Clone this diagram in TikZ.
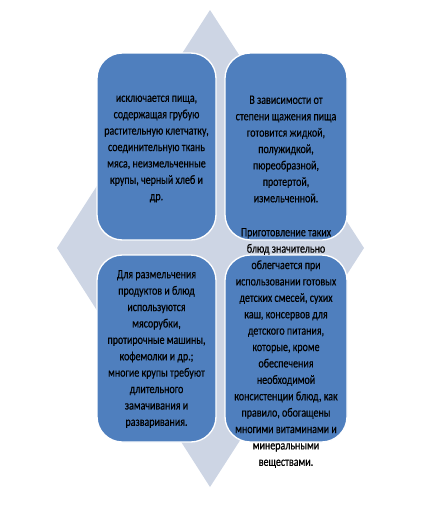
\documentclass[tikz,border=0pt]{standalone}
\usepackage{fontspec}
\setmainfont[FakeStretch=0.78,FakeBold=0.4]{Carlito}
\begin{document}
\begin{tikzpicture}[x=0.75pt,y=-0.75pt,
  boxstyle/.style={draw=white, line width=1pt, fill=boxblue, rounded corners=19pt},
  txtstyle/.style={align=center, font=\fontsize{9.6pt}{12.3pt}\selectfont, text=black, inner sep=0pt}]
\definecolor{boxblue}{HTML}{4F7FBE}
\definecolor{diamondc}{HTML}{CDD5E4}
\useasboundingbox (0,0) rectangle (434,507);
\fill[diamondc] (210,10) coordinate (dt) -- (364,248) coordinate (dr) -- (210,487) coordinate (db) -- (57,248) coordinate (dl) -- cycle;
\draw[boxstyle] (97,53) rectangle (216,240);
\draw[boxstyle] (225,53) rectangle (347,240);
\draw[boxstyle] (97,255) rectangle (216,442);
\draw[boxstyle] (225,255) rectangle (347,442);
\node[txtstyle] (tl) at (156.5,149) {исключается пища,\\содержащая грубую\\растительную клетчатку,\\соединительную ткань\\мяса, неизмельченные\\крупы, черный хлеб и\\др.};
\node[txtstyle] (tr) at (286,149) {В зависимости от\\степени щажения пища\\готовится жидкой,\\полужидкой,\\пюреобразной,\\протертой,\\измельченной.};
\node[txtstyle] (bl) at (156.5,349) {Для размельчения\\продуктов и блюд\\используются\\мясорубки,\\протирочные машины,\\кофемолки и др.;\\многие крупы требуют\\длительного\\замачивания и\\разваривания.};
\node[txtstyle] (br) at (286,348) {Приготовление таких\\блюд значительно\\облегчается при\\использовании готовых\\детских смесей, сухих\\каш, консервов для\\детского питания,\\которые, кроме\\обеспечения\\необходимой\\консистенции блюд, как\\правило, обогащены\\многими витаминами и\\минеральными\\веществами.};
\end{tikzpicture}
\end{document}
